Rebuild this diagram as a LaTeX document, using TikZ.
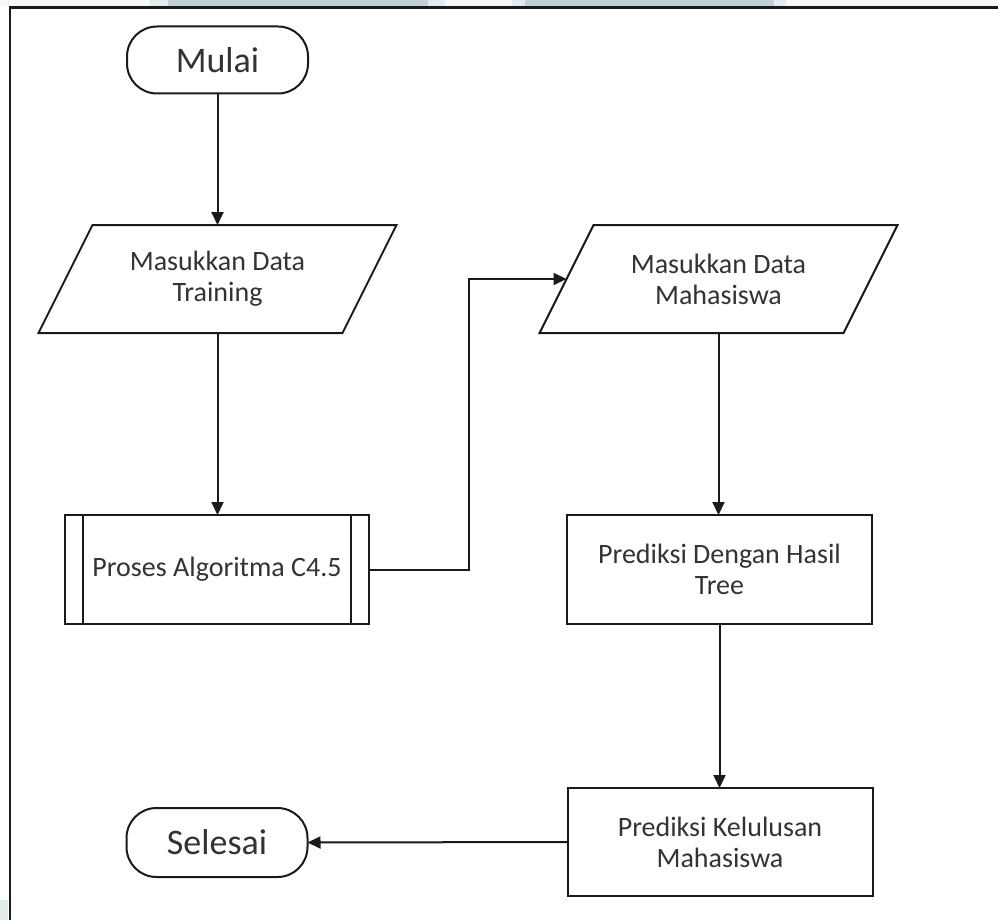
\documentclass[tikz,border=0pt]{standalone}
\usepackage{fontspec}
\setmainfont{Carlito}
\usetikzlibrary{arrows.meta}

\definecolor{inkline}{HTML}{1A1A1A}
\definecolor{inktext}{HTML}{333333}
\definecolor{bandfill}{HTML}{C0D2D8}
\definecolor{bandedge}{HTML}{E2ECEF}
\definecolor{bandpale}{HTML}{F5F9FA}

\tikzset{
  every node/.style={text=inktext, inner sep=0pt, outer sep=0pt},
  terminal/.style={draw=inkline, line width=2pt, rounded corners=30pt,
    minimum width=181pt, minimum height=67pt,
    font=\fontsize{36}{42}\selectfont},
  processbox/.style={draw=inkline, line width=2pt,
    minimum width=305pt, minimum height=109pt, align=center,
    font=\fontsize{28}{31}\selectfont},
  iobox/.style={minimum width=304pt, minimum height=108pt, align=center,
    font=\fontsize{28}{31}\selectfont},
  flow/.style={draw=inkline, line width=2pt,
    -{Triangle[length=13pt,width=12pt]}}
}

% parallelogram drawn around an (undrawn) io node
\newcommand{\ioshape}[1]{%
  \draw[inkline, line width=2pt]
    ([xshift=27pt]#1.north west) -- ([xshift=27pt]#1.north east)
    -- ([xshift=-27pt]#1.south east) -- ([xshift=-27pt]#1.south west) -- cycle;}

\begin{document}
\begin{tikzpicture}[x=1pt, y=-1pt]
  \useasboundingbox (0,0) rectangle (998,920);
  \fill[white] (0,0) rectangle (998,920);

  % pale strip along the top edge
  \fill[bandpale] (0,0) rectangle (998,6.5);
  \fill[bandedge] (150,0) rectangle (445,6.5);
  \fill[bandfill] (168,0) rectangle (428,6.5);
  \fill[bandedge] (512,0) rectangle (786,6.5);
  \fill[bandfill] (525,0) rectangle (774,6.5);
  \fill[bandedge] (0,900) rectangle (8,920);

  % page frame
  \draw[inkline, line width=2.5pt] (10,925) -- (10,7.5) -- (1005,7.5);

  % left column
  \node[terminal] (start) at (217.5,60) {Mulai};
  \node[iobox] (train) at (217.5,279) {Masukkan Data\\Training};
  \ioshape{train}
  \node[processbox, minimum width=304pt] (algo) at (217,569.5) {Proses Algoritma C4.5};
  \draw[inkline, line width=2pt]
    ([xshift=18pt]algo.north west) -- ([xshift=18pt]algo.south west)
    ([xshift=-18pt]algo.north east) -- ([xshift=-18pt]algo.south east);
  \node[terminal, minimum height=69pt] (stop) at (217,842.5) {Selesai};

  % right column
  \node[iobox] (student) at (718.5,279) {Masukkan Data\\Mahasiswa};
  \ioshape{student}
  \node[processbox] (tree) at (719.5,569.5) {Prediksi Dengan Hasil\\Tree};
  \node[processbox, minimum height=108pt] (result) at (720,842) {Prediksi Kelulusan\\Mahasiswa};

  % connectors
  \draw[flow] (start.south) -- (train.north);
  \draw[flow] (train.south) -- (train.south |- algo.north);
  \draw[flow] (algo.east) -- ++(100,0) |- (student.west);
  \draw[flow] (student.south) -- (student.south |- tree.north);
  \draw[flow] (tree.south) -- (tree.south |- result.north);
  \draw[flow] (result.west) -- (stop.east);
\end{tikzpicture}
\end{document}
